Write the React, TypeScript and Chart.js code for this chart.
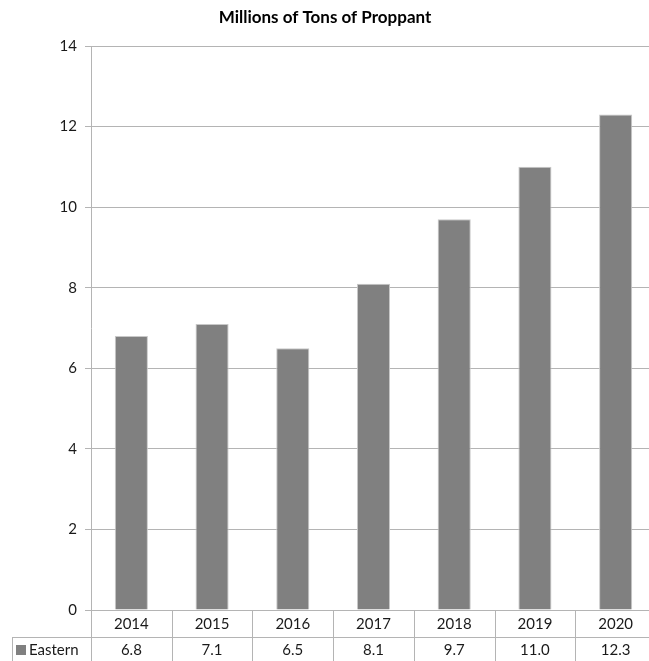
import React, { useEffect, useRef } from "react";
import { Chart, registerables } from "chart.js";

Chart.register(...registerables);

const TITLE = "Millions of Tons of Proppant";
const CATEGORIES = ["2014", "2015", "2016", "2017", "2018", "2019", "2020"];
const SERIES_NAME = "Eastern";
const VALUES = [6.8, 7.1, 6.5, 8.1, 9.7, 11.0, 12.3];
const VALUE_LABELS = ["6.8", "7.1", "6.5", "8.1", "9.7", "11.0", "12.3"];
const Y_MIN = 0;
const Y_MAX = 14;
const Y_STEP = 2;

const FONT = "Lato, 'Open Sans', sans-serif";
const LINE = "#b4b4b4";
const BAR = "#808080";
const TEXT = "#1a1a1a";

const tablePlugin = {
  id: "tablePlugin",
  afterDraw(chart: any) {
    const ctx = chart.ctx as CanvasRenderingContext2D;
    const area = chart.chartArea;
    const n = CATEGORIES.length;
    const w = (area.right - area.left) / n;
    const rowH = 27;
    const top = area.bottom;
    const row2 = top + rowH;
    const H = chart.height;
    ctx.save();
    // title
    ctx.fillStyle = "#000";
    ctx.font = `bold 17px ${FONT}`;
    ctx.textAlign = "center";
    ctx.textBaseline = "middle";
    ctx.fillText(TITLE, 325, 18);

    ctx.strokeStyle = LINE;
    ctx.lineWidth = 1;
    ctx.beginPath();
    for (let i = 0; i <= n; i++) {
      const x = Math.round(area.left + i * w) + 0.5;
      ctx.moveTo(x, top);
      ctx.lineTo(x, H);
    }
    ctx.moveTo(12, row2 + 0.5);
    ctx.lineTo(chart.width, row2 + 0.5);
    ctx.moveTo(12.5, row2);
    ctx.lineTo(12.5, H);
    ctx.stroke();

    ctx.fillStyle = TEXT;
    ctx.font = `15px ${FONT}`;
    ctx.textAlign = "center";
    for (let i = 0; i < n; i++) {
      const cx = area.left + (i + 0.5) * w;
      ctx.fillText(CATEGORIES[i], cx, top + rowH / 2 + 1);
      ctx.fillText(VALUE_LABELS[i], cx, row2 + 13);
    }
    // legend key
    ctx.fillStyle = BAR;
    ctx.fillRect(16, row2 + 8, 10, 10);
    ctx.fillStyle = TEXT;
    ctx.textAlign = "left";
    ctx.fillText(SERIES_NAME, 29, row2 + 13);
    ctx.restore();
  },
};

export default function App() {
  const ref = useRef<HTMLCanvasElement>(null);
  useEffect(() => {
    if (!ref.current) return;
    const chart = new Chart(ref.current, {
      type: "bar",
      data: {
        labels: CATEGORIES,
        datasets: [
          {
            label: SERIES_NAME,
            data: VALUES,
            backgroundColor: BAR,
            borderColor: "#c8c8c8",
            borderWidth: 1,
            categoryPercentage: 1,
            barPercentage: 0.41,
          },
        ],
      },
      options: {
        animation: false,
        responsive: false,
        maintainAspectRatio: false,
        layout: { padding: { left: 0, top: 46, right: 14, bottom: 60 } },
        plugins: {
          legend: { display: false },
          title: { display: false },
          tooltip: { enabled: false },
        },
        scales: {
          x: { display: false },
          y: {
            min: Y_MIN,
            max: Y_MAX,
            afterFit(scale: any) {
              scale.width = 91;
            },
            ticks: {
              stepSize: Y_STEP,
              padding: 8,
              color: TEXT,
              font: { family: FONT, size: 15 },
            },
            grid: { color: LINE, tickLength: 6, lineWidth: 1 },
            border: { color: LINE, width: 1 },
          },
        },
      },
      plugins: [tablePlugin],
    });
    return () => chart.destroy();
  }, []);
  return (
    <div
      style={{
        position: "fixed",
        left: 0,
        top: 0,
        width: 649,
        height: 661,
        overflow: "hidden",
        background: "#fff",
      }}
    >
      <canvas ref={ref} width={670} height={670} style={{ display: "block" }} />
    </div>
  );
}
